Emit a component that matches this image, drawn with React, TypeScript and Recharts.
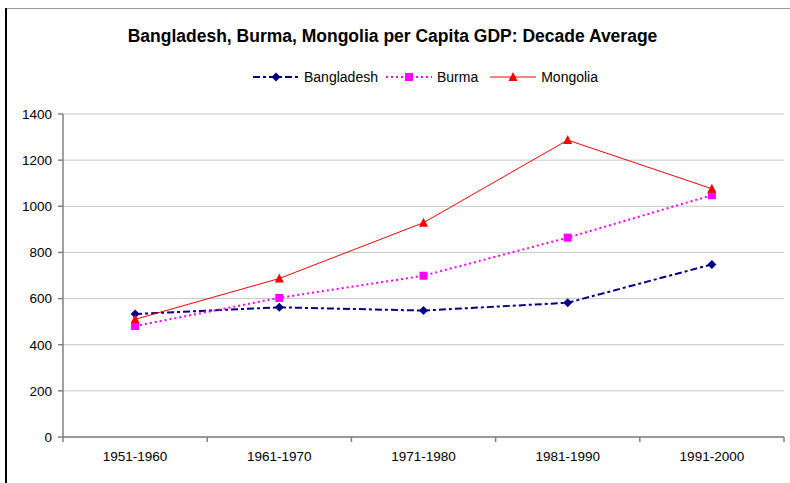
import React from "react";
import { LineChart, Line, XAxis, YAxis, CartesianGrid } from "recharts";

const categories = ["1951-1960", "1961-1970", "1971-1980", "1981-1990", "1991-2000"];
const bangladesh = [533, 562, 548, 582, 748];
const burma = [481, 603, 699, 864, 1048];
const mongolia = [510, 687, 929, 1287, 1076];
const yTicks = [0, 200, 400, 600, 800, 1000, 1200, 1400];

const data = categories.map((c, i) => ({
  x: i + 0.5,
  name: c,
  bangladesh: bangladesh[i],
  burma: burma[i],
  mongolia: mongolia[i],
}));

const W = 790;
const H = 483;
const LEFT = 63;
const RIGHT = 6;
const STEP = (W - LEFT - RIGHT) / categories.length;
const FONT = "'Liberation Sans', Arial, sans-serif";

const NAVY = "#000080";
const MAGENTA = "#ff00ff";
const RED = "#ff0000";

type DotProps = { cx?: number; cy?: number; index?: number };

const Diamond = ({ cx = 0, cy = 0 }: DotProps) => (
  <polygon points={`${cx},${cy - 4.5} ${cx + 4.5},${cy} ${cx},${cy + 4.5} ${cx - 4.5},${cy}`} fill={NAVY} />
);
const Square = ({ cx = 0, cy = 0 }: DotProps) => (
  <rect x={cx - 4} y={cy - 4} width={8} height={8} fill={MAGENTA} />
);
const Triangle = ({ cx = 0, cy = 0 }: DotProps) => (
  <polygon points={`${cx},${cy - 5} ${cx + 4.5},${cy + 4} ${cx - 4.5},${cy + 4}`} fill={RED} />
);

type TickProps = { x?: number; y?: number; payload?: { value?: number } };

const XTick = ({ x = 0, y = 0, payload }: TickProps) => {
  const v = payload?.value ?? 0;
  const label = categories[v];
  if (!label) return <g />;
  return (
    <text x={x + STEP / 2} y={y + 17} textAnchor="middle" fontSize={13.5} fill="#000" fontFamily={FONT}>
      {label}
    </text>
  );
};

const LegendItem = ({ label, gap, children }: { label: string; gap: number; children: React.ReactNode }) => (
  <div style={{ display: "flex", alignItems: "center", marginRight: gap }}>
    <svg width={46} height={12} style={{ marginRight: 5 }}>
      {children}
    </svg>
    <span style={{ fontSize: 14 }}>{label}</span>
  </div>
);

export default function App() {
  return (
    <div style={{ position: "absolute", left: 0, top: 0, width: W, height: H, background: "#fff", fontFamily: FONT }}>
      <div style={{ position: "absolute", left: 6, top: 8, right: 0, height: 1, background: "#9a9a9a" }} />
      <div style={{ position: "absolute", left: 5, top: 8, width: 2, bottom: 0, background: "#000" }} />
      <div
        style={{
          position: "absolute",
          left: 0,
          width: W - 5,
          top: 26,
          textAlign: "center",
          fontWeight: "bold",
          fontSize: 17.5,
          color: "#000",
        }}
      >
        Bangladesh, Burma, Mongolia per Capita GDP: Decade Average
      </div>
      <div style={{ position: "absolute", left: 253, top: 69, display: "flex", alignItems: "center", color: "#000" }}>
        <LegendItem label="Bangladesh" gap={8}>
          <line x1={0} y1={6} x2={46} y2={6} stroke={NAVY} strokeWidth={2} strokeDasharray="7 3 3 3" />
          <Diamond cx={23} cy={6} />
        </LegendItem>
        <LegendItem label="Burma" gap={12}>
          <line x1={0} y1={6} x2={46} y2={6} stroke={MAGENTA} strokeWidth={2} strokeDasharray="2 3" />
          <Square cx={23} cy={6} />
        </LegendItem>
        <LegendItem label="Mongolia" gap={0}>
          <line x1={0} y1={6} x2={46} y2={6} stroke={RED} strokeWidth={1} />
          <Triangle cx={23} cy={6} />
        </LegendItem>
      </div>
      <div style={{ position: "absolute", left: 0, top: 0 }}>
        <LineChart width={W} height={H} data={data} margin={{ top: 114, right: RIGHT, left: 0, bottom: 0 }}>
          <CartesianGrid vertical={false} stroke="#c8c8c8" strokeWidth={1} />
          <XAxis
            dataKey="x"
            type="number"
            domain={[0, 5]}
            ticks={[0, 1, 2, 3, 4, 5]}
            height={46}
            stroke="#808080"
            strokeWidth={1.5}
            tickSize={5}
            tick={(p: TickProps) => <XTick {...p} />}
          />
          <YAxis
            width={LEFT}
            domain={[0, 1400]}
            ticks={yTicks}
            stroke="#808080"
            strokeWidth={1.5}
            tickSize={5}
            tickMargin={6}
            tick={{ fontSize: 13.5, fill: "#000", fontFamily: FONT }}
          />
          <Line
            dataKey="bangladesh"
            stroke={NAVY}
            strokeWidth={2}
            strokeDasharray="7 3 3 3"
            dot={(p: DotProps) => <Diamond key={p.index} {...p} />}
            activeDot={false}
            isAnimationActive={false}
          />
          <Line
            dataKey="burma"
            stroke={MAGENTA}
            strokeWidth={2}
            strokeDasharray="2 3"
            dot={(p: DotProps) => <Square key={p.index} {...p} />}
            activeDot={false}
            isAnimationActive={false}
          />
          <Line
            dataKey="mongolia"
            stroke={RED}
            strokeWidth={1}
            dot={(p: DotProps) => <Triangle key={p.index} {...p} />}
            activeDot={false}
            isAnimationActive={false}
          />
        </LineChart>
      </div>
    </div>
  );
}
